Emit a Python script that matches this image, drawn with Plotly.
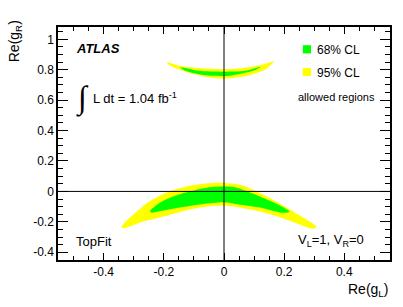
import plotly.graph_objects as go

# ---- data: contour outlines (Re(gL), Re(gR)) ----
# lower band, 95% CL
low95_x = [-0.340, -0.330, -0.300, -0.249, -0.200, -0.161, -0.100, -0.050, 0.000, 0.050, 0.093, 0.140, 0.181, 0.220, 0.258, 0.290, 0.307,
           0.297, 0.258, 0.220, 0.181, 0.140, 0.093, 0.050, 0.000, -0.073, -0.120, -0.161, -0.220, -0.271, -0.332]
low95_y = [-0.238, -0.205, -0.150, -0.067, -0.015, 0.014, 0.042, 0.054, 0.056, 0.045, 0.015, -0.030, -0.075, -0.120, -0.165, -0.205, -0.232,
           -0.246, -0.222, -0.195, -0.167, -0.143, -0.121, -0.105, -0.093, -0.104, -0.122, -0.143, -0.175, -0.200, -0.242]
# lower band, 68% CL
low68_x = [-0.245, -0.216, -0.183, -0.128, -0.050, 0.000, 0.037, 0.093, 0.159, 0.192, 0.218,
           0.196, 0.115, 0.037, 0.000, -0.073, -0.161, -0.210, -0.243]
low68_y = [-0.128, -0.078, -0.045, -0.008, 0.027, 0.032, 0.028, -0.012, -0.067, -0.100, -0.134,
           -0.141, -0.104, -0.082, -0.072, -0.084, -0.110, -0.128, -0.139]
# upper band, 95% CL
up95_x = [-0.189, -0.150, -0.106, -0.050, 0.000, 0.050, 0.093, 0.130, 0.166,
          0.160, 0.137, 0.071, 0.000, -0.062, -0.128, -0.183]
up95_y = [0.848, 0.826, 0.814, 0.806, 0.804, 0.808, 0.820, 0.835, 0.853,
          0.840, 0.802, 0.758, 0.741, 0.754, 0.787, 0.831]
# upper band, 68% CL
up68_x = [-0.145, -0.084, 0.000, 0.071, 0.122, 0.104, 0.049, 0.000, -0.073, -0.128]
up68_y = [0.815, 0.793, 0.787, 0.793, 0.820, 0.798, 0.771, 0.758, 0.767, 0.793]

x_tickvals = [-0.4, -0.2, 0, 0.2, 0.4]
x_ticktext = ["-0.4", "-0.2", "0", "0.2", "0.4"]
y_tickvals = [-0.4, -0.2, 0, 0.2, 0.4, 0.6, 0.8, 1.0]
y_ticktext = ["-0.4", "-0.2", "0", "0.2", "0.4", "0.6", "0.8", "1"]

legend_names = ["68% CL", "95% CL"]
YELLOW = "#ffff00"
GREEN = "#00ff00"
legend_colors = [GREEN, YELLOW]
FONT = "Liberation Sans, Arial, Helvetica, sans-serif"

fig = go.Figure()

def region(xs, ys, color, name):
    fig.add_trace(go.Scatter(x=xs + xs[:1], y=ys + ys[:1], mode="lines", fill="toself", name=name,
                             fillcolor=color, line=dict(width=0, color=color, shape="spline", smoothing=0.8),
                             showlegend=False, hoverinfo="skip"))

region(low95_x, low95_y, YELLOW, "95% CL")
region(up95_x, up95_y, YELLOW, "95% CL")
region(low68_x, low68_y, GREEN, "68% CL")
region(up68_x, up68_y, GREEN, "68% CL")

# reference lines at zero
fig.add_shape(type="line", xref="x", yref="paper", x0=0, x1=0, y0=0, y1=1,
              line=dict(color="black", width=1), layer="above")
fig.add_shape(type="line", xref="paper", yref="y", x0=0, x1=1, y0=0, y1=0,
              line=dict(color="black", width=1), layer="above")

axis_common = dict(showline=True, linecolor="black", linewidth=1.5, mirror="ticks",
                   ticks="inside", tickcolor="black", tickwidth=1, showgrid=False, zeroline=False,
                   tickfont=dict(family=FONT, size=12, color="black"), layer="above traces")

fig.update_xaxes(range=[-0.552, 0.552], tickmode="array", tickvals=x_tickvals, ticktext=x_ticktext,
                 ticklen=7, minor=dict(ticks="inside", tick0=0, dtick=0.05, ticklen=4, tickcolor="black"),
                 **axis_common)
fig.update_yaxes(range=[-0.451, 1.081], tickmode="array", tickvals=y_tickvals, ticktext=y_ticktext,
                 ticklen=10, minor=dict(ticks="inside", tick0=0, dtick=0.05, ticklen=5, tickcolor="black"),
                 **axis_common)

def px(X):
    return (X - 58) / 334.0

def py(Y):
    return (260 - Y) / 233.0

# legend box (squares + labels)
leg_rows_y = [49.3, 72.0]
for name, col, yc in zip(legend_names, legend_colors, leg_rows_y):
    fig.add_shape(type="rect", xref="paper", yref="paper",
                  x0=px(304.3), x1=px(312.5), y0=py(yc + 4.1), y1=py(yc - 4.1),
                  fillcolor=col, line=dict(width=0), layer="above")

ann = [
    dict(text="Re(g<sub>R</sub>)", x=px(15), y=py(41), textangle=-90, font=dict(size=14)),
    dict(text="Re(g<sub>L</sub>)", x=1.0, y=py(290), xanchor="right", font=dict(size=14)),
    dict(text="<b><i>ATLAS</i></b>", x=px(74), y=py(48), xanchor="left", font=dict(size=13)),
    dict(text="∫", x=px(83), y=py(97.5), font=dict(size=32, family="DejaVu Sans ExtraLight, DejaVu Sans", weight=200)),
    dict(text="L dt = 1.04 fb<sup>-1</sup>", x=px(91), y=py(98), xanchor="left", font=dict(size=13)),
    dict(text=legend_names[0], x=px(316.5), y=py(leg_rows_y[0] + 1), xanchor="left", font=dict(size=12)),
    dict(text=legend_names[1], x=px(316.5), y=py(leg_rows_y[1] + 1), xanchor="left", font=dict(size=12)),
    dict(text="allowed regions", x=px(297), y=py(97), xanchor="left", font=dict(size=11)),
    dict(text="TopFit", x=px(74), y=py(241), xanchor="left", font=dict(size=13)),
    dict(text="V<sub>L</sub>=1, V<sub>R</sub>=0", x=px(297), y=py(240), xanchor="left", font=dict(size=13)),
]
for a in ann:
    f = dict(family=FONT, color="black")
    f.update(a.pop("font"))
    fig.add_annotation(xref="paper", yref="paper", showarrow=False, font=f,
                       xanchor=a.pop("xanchor", "center"), yanchor="middle", **a)

fig.update_layout(
    width=403, height=307, autosize=False,
    margin=dict(l=58, r=11, t=27, b=47),
    paper_bgcolor="white", plot_bgcolor="white",
    font=dict(family=FONT, color="black"),
    showlegend=False,
)

fig.write_html("out.html", config={"displayModeBar": False},
               post_script="document.body.style.margin='0';document.body.style.overflow='hidden';")
